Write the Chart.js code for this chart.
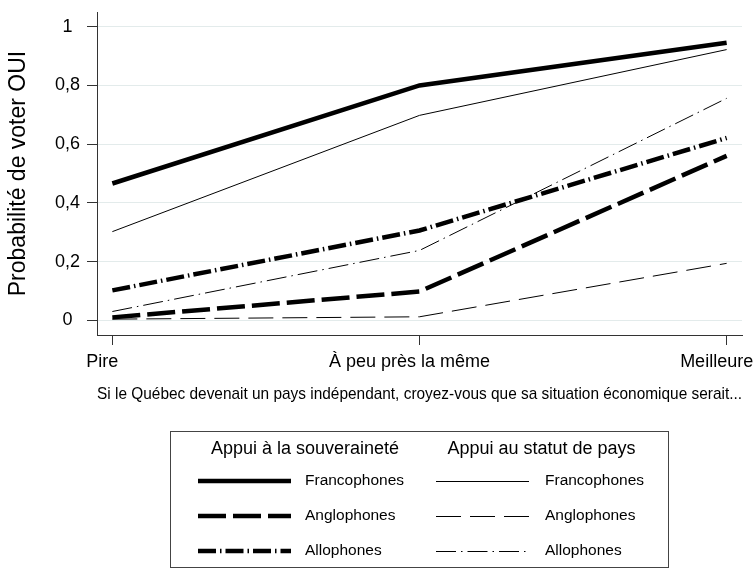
<!DOCTYPE html>
<html lang="fr">
<head>
<meta charset="utf-8">
<script src="https://cdn.jsdelivr.net/npm/chart.js@4.4.0/dist/chart.umd.min.js"></script>
<style>
  html, body { margin: 0; padding: 0; background: #fff; }
  #wrap { width: 755px; height: 571px; }
</style>
</head>
<body>
<div id="wrap"><canvas id="graphique"></canvas></div>
<script>
// Catégories et graduations
const categories = ['Pire', 'À peu près la même', 'Meilleure'];
const yTicks = [0, 0.2, 0.4, 0.6, 0.8, 1];
const groupes = ['Appui à la souveraineté', 'Appui au statut de pays'];
const langues = ['Francophones', 'Anglophones', 'Allophones'];

// Probabilités
const souvFranco = [0.466, 0.800, 0.945];
const souvAnglo  = [0.010, 0.098, 0.560];
const souvAllo   = [0.102, 0.306, 0.621];
const paysFranco = [0.302, 0.698, 0.922];
const paysAnglo  = [0.004, 0.012, 0.194];
const paysAllo   = [0.030, 0.238, 0.756];

const series = [
    [souvFranco, souvAnglo, souvAllo],
    [paysFranco, paysAnglo, paysAllo]
];

// Styles de trait : épais pour la souveraineté, fin pour le statut de pays
const epaisseurs = [4.5, 1];
const tirets = [
    [[], [28, 7], [18, 4, 1.5, 4]],
    [[], [25, 9], [20, 5, 1.5, 5]]
];

const FONT = 'Arial, "Liberation Sans", Helvetica, sans-serif';

const datasets = [];
series.forEach((groupe, g) => {
    groupe.forEach((valeurs, l) => {
        datasets.push({
            label: langues[l],
            data: valeurs.map((v, i) => ({ x: i, y: v })),
            borderColor: '#000',
            borderWidth: epaisseurs[g],
            borderDash: tirets[g][l],
            borderCapStyle: 'butt',
            pointRadius: 0,
            tension: 0,
            fill: false
        });
    });
});

// Décale les étiquettes de l'axe x comme dans l'original
const decaleEtiquettes = {
    id: 'decaleEtiquettes',
    beforeDraw(chart) {
        const items = chart.scales.x.getLabelItems(chart.chartArea);
        items.forEach(it => { it.options.translation[0] -= 10; });
    }
};

// Légende en deux colonnes dans un cadre
const legendeBoite = {
    id: 'legendeBoite',
    afterDraw(chart) {
        const ctx = chart.ctx;
        ctx.save();
        ctx.strokeStyle = '#444';
        ctx.lineWidth = 1;
        ctx.strokeRect(170.5, 431.5, 498, 136);

        const colonnes = [
            { titre: 305, x0: 198, x1: 291, texte: 305 },
            { titre: 541.5, x0: 436, x1: 529, texte: 545 }
        ];
        const rangees = [481, 516, 551];

        ctx.fillStyle = '#000';
        ctx.textBaseline = 'middle';
        colonnes.forEach((c, g) => {
            ctx.font = '18px ' + FONT;
            ctx.textAlign = 'center';
            ctx.fillText(groupes[g], c.titre, 449);
            ctx.font = '15.5px ' + FONT;
            ctx.textAlign = 'left';
            langues.forEach((nom, l) => {
                const ds = chart.data.datasets[g * 3 + l];
                const y = rangees[l] + (ds.borderWidth < 2 ? 0.5 : 0);
                ctx.beginPath();
                ctx.setLineDash(ds.borderDash);
                ctx.lineWidth = ds.borderWidth;
                ctx.strokeStyle = '#000';
                ctx.moveTo(c.x0, y);
                ctx.lineTo(c.x1, y);
                ctx.stroke();
                ctx.setLineDash([]);
                ctx.fillText(nom, c.texte, rangees[l]);
            });
        });
        ctx.restore();
    }
};

const ctx = document.getElementById('graphique').getContext('2d');
const chart = new Chart(ctx, {
    type: 'line',
    data: { datasets: datasets },
    plugins: [decaleEtiquettes, legendeBoite],
    options: {
        responsive: true,
        maintainAspectRatio: false,
        animation: false,
        layout: { padding: { left: 0, right: 13, top: 12, bottom: 167 } },
        plugins: {
            legend: { display: false },
            tooltip: { enabled: false }
        },
        scales: {
            x: {
                type: 'linear',
                min: -0.05,
                max: 2.05,
                afterBuildTicks: (scale) => {
                    scale.ticks = categories.map((c, i) => ({ value: i }));
                },
                afterFit: (scale) => {
                    scale.height = 69;
                    scale.paddingLeft = 0;
                    scale.paddingRight = 0;
                },
                ticks: {
                    autoSkip: false,
                    maxRotation: 0,
                    padding: 6,
                    color: '#000',
                    font: { family: FONT, size: 18 },
                    callback: (v) => categories[v]
                },
                grid: {
                    drawOnChartArea: false,
                    tickLength: 10,
                    tickColor: '#333'
                },
                border: { color: '#333', width: 1 },
                title: {
                    display: true,
                    text: 'Si le Québec devenait un pays indépendant, croyez-vous que sa situation économique serait...',
                    color: '#000',
                    font: { family: FONT, size: 16.6 },
                    padding: { top: 12, bottom: 0 }
                }
            },
            y: {
                type: 'linear',
                min: -0.05,
                max: 1.05,
                afterBuildTicks: (scale) => {
                    scale.ticks = yTicks.map(v => ({ value: v }));
                },
                afterFit: (scale) => {
                    scale.width = 97;
                    scale.paddingTop = 0;
                    scale.paddingBottom = 0;
                },
                ticks: {
                    crossAlign: 'center',
                    padding: 7,
                    color: '#000',
                    font: { family: FONT, size: 18 },
                    callback: (v) => String(Math.round(v * 10) / 10).replace('.', ',')
                },
                grid: {
                    color: '#e3ebeb',
                    lineWidth: 1,
                    tickLength: 10,
                    tickColor: '#333'
                },
                border: { color: '#333', width: 1 },
                title: {
                    display: true,
                    text: 'Probabilité de voter OUI',
                    color: '#000',
                    font: { family: FONT, size: 23 },
                    padding: { top: 5, bottom: 0 }
                }
            }
        }
    }
});
</script>
</body>
</html>
